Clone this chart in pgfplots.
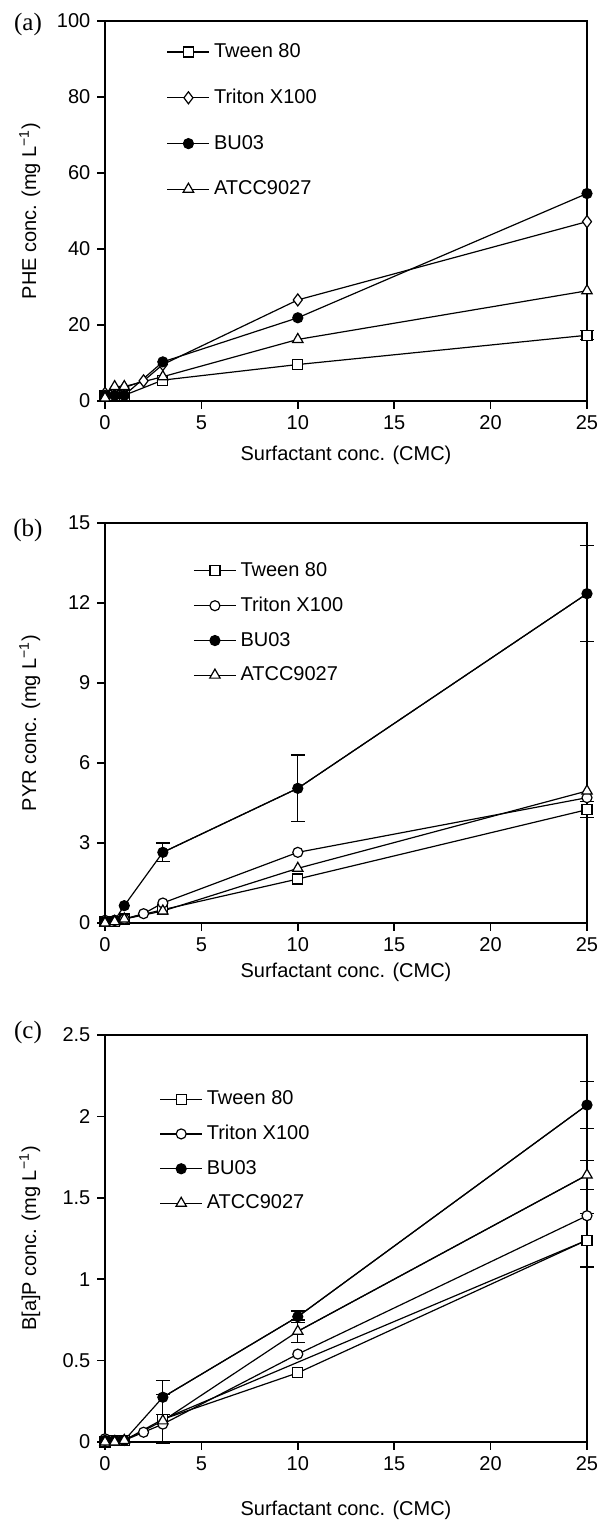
\documentclass[border=0pt]{standalone}
\usepackage{fontspec}
\setmainfont{Liberation Sans}
\newfontfamily\serif{Liberation Serif}
\usepackage{pgfplots}
\pgfplotsset{compat=1.18}

\pgfplotsset{
  panel/.style={
    scale only axis,
    width=241pt,
    xmin=0, xmax=25,
    xtick={0,5,...,25},
    tick pos=left,
    tick align=outside,
    major tick length=3.8pt,
    axis line style={line width=0.8pt},
    every tick/.style={line width=0.8pt, black},
    font=\fontsize{10}{12}\selectfont,
    tick label style={font=\fontsize{10}{12}\selectfont},
    /pgf/number format/assume math mode=true,
    xlabel={Surfactant conc. (CMC)},
    ylabel style={at={(axis description cs:-0.156,0.5)}, anchor=center},
    legend cell align=left,
    legend image code/.code={\draw[mark repeat=2,mark phase=2] plot coordinates {(0pt,0pt) (10.5pt,0pt) (21pt,0pt)};},
    clip=false,
  },
  ser/.style={black, line width=0.6pt, mark size=2.5pt, mark options={solid, line width=0.6pt}},
  ebar/.style={black, line width=0.6pt, mark=none, forget plot,
    error bars/.cd, y dir=both, y explicit,
    error bar style={line width=0.6pt},
    error mark options={line width=0.6pt, mark size=3.5pt, rotate=90}},
}

\begin{document}
\begin{tikzpicture}

% (a) PHE
\begin{axis}[panel, at={(0pt,0pt)}, anchor=north west, height=190pt,
    ymin=0, ymax=100, ytick={0,20,...,100},
    ylabel={PHE conc. (mg L\textsuperscript{−1})},
    xlabel style={at={(axis description cs:0.5,0)}, anchor=center, yshift=-27pt},
    legend style={draw=none, fill=none, at={(axis description cs:0.115,0.963)}, anchor=north west,
      row sep=10.3pt, font=\fontsize{10}{12}\selectfont}]
\addplot[ebar] coordinates {(25,17.3) +- (0,1.2)};
\addplot[ser, mark=square*, mark options={fill=white}] coordinates {(0,1.5)(0.5,1.5)(1,1.5)(3,5.5)(10,9.6)(25,17.3)};
\addlegendentry{Tween 80}
\addplot[ser, mark=diamond*, mark size=3pt, mark options={fill=white}] coordinates {(0,2)(0.5,3.3)(1,3.5)(2,5.3)(3,9.6)(10,26.6)(25,47.2)};
\addlegendentry{Triton X100}
\addplot[ser, mark=*, mark options={fill=black}] coordinates {(0,1.5)(0.5,1.5)(1,1.5)(3,10.3)(10,21.9)(25,54.6)};
\addlegendentry{BU03}
\addplot[ser, mark=triangle*, mark size=3pt, mark options={fill=white}] coordinates {(0,0.8)(0.5,3.8)(1,3.8)(3,6.4)(10,16.2)(25,29.0)};
\addlegendentry{ATCC9027}
\node[font=\serif\fontsize{12.5}{14}\selectfont] at (axis description cs:0,1) [xshift=-38.5pt, yshift=-1.5pt] {(a)};
\end{axis}

% (b) PYR
\begin{axis}[panel, at={(0pt,-251pt)}, anchor=north west, height=200pt,
    ymin=0, ymax=15, ytick={0,3,...,15},
    ylabel={PYR conc. (mg L\textsuperscript{−1})},
    xlabel style={at={(axis description cs:0.5,0)}, anchor=center, yshift=-24.5pt},
    legend style={draw=none, fill=none, at={(axis description cs:0.17,0.9225)}, anchor=north west,
      row sep=4.8pt, font=\fontsize{10}{12}\selectfont}]
\addplot[ebar] coordinates {(3,2.65) +- (0,0.35)(10,5.05) +- (0,1.25)(25,12.35) +- (0,1.8)};
\addplot[ebar] coordinates {(25,4.25) +- (0,0.3)};
\addplot[ser, mark=square*, mark options={fill=white}] coordinates {(0,0.05)(0.5,0.05)(1,0.15)(3,0.5)(10,1.65)(25,4.25)};
\addlegendentry{Tween 80}
\addplot[ser, mark=*, mark options={fill=white}] coordinates {(0,0.1)(0.5,0.1)(1,0.15)(2,0.35)(3,0.75)(10,2.65)(25,4.7)};
\addlegendentry{Triton X100}
\addplot[ser, mark=*, mark options={fill=black}] coordinates {(0,0.05)(0.5,0.1)(1,0.65)(3,2.65)(10,5.05)(25,12.35)};
\addlegendentry{BU03}
\addplot[ser, mark=triangle*, mark size=3pt, mark options={fill=white}] coordinates {(0,0.0)(0.5,0.05)(1,0.15)(3,0.45)(10,2.05)(25,4.95)};
\addlegendentry{ATCC9027}
\node[font=\serif\fontsize{12.5}{14}\selectfont] at (axis description cs:0,1) [xshift=-38.5pt, yshift=-3.5pt] {(b)};
\end{axis}

% (c) B[a]P
\begin{axis}[panel, at={(0pt,-507pt)}, anchor=north west, height=203.5pt,
    ymin=0, ymax=2.5, ytick={0,0.5,...,2.5},
    ylabel={B[a]P conc. (mg L\textsuperscript{−1})},
    xlabel style={at={(axis description cs:0.5,0)}, anchor=center, yshift=-34pt},
    legend style={draw=none, fill=none, at={(axis description cs:0.1,0.884)}, anchor=north west,
      row sep=4.8pt, font=\fontsize{10}{12}\selectfont}]
\addplot[ebar] coordinates {(3,0.275) +- (0,0.105)(10,0.77) +- (0,0.035)(25,2.07) +- (0,0.145)};
\addplot[ebar] coordinates {(3,0.14) +- (0,0.15)(25,1.24) +- (0,0.165)};
\addplot[ebar] coordinates {(10,0.68) +- (0,0.07)(25,1.64) +- (0,0.09)};
\addplot[ser, mark=square*, mark options={fill=white}] coordinates {(0,0)(0.5,0.01)(1,0.01)(3,0.14)(10,0.425)(25,1.24)};
\addlegendentry{Tween 80}
\addplot[ser, mark=*, mark options={fill=white}] coordinates {(0,0.02)(0.5,0.01)(1,0.01)(2,0.06)(3,0.11)(10,0.54)(25,1.39)};
\addlegendentry{Triton X100}
\addplot[ser, mark=*, mark options={fill=black}] coordinates {(0,0.01)(0.5,0.01)(1,0.01)(3,0.275)(10,0.77)(25,2.07)};
\addlegendentry{BU03}
\addplot[ser, mark=triangle*, mark size=3pt, mark options={fill=white}] coordinates {(0,0)(0.5,0)(1,0.01)(3,0.13)(10,0.68)(25,1.64)};
\addlegendentry{ATCC9027}
\node[font=\serif\fontsize{12.5}{14}\selectfont] at (axis description cs:0,1) [xshift=-38.5pt, yshift=1.5pt] {(c)};
\end{axis}

\pgfresetboundingbox
\path[use as bounding box] (-52.5pt,10.5pt) rectangle (247.5pt,-750pt);
\end{tikzpicture}
\end{document}
